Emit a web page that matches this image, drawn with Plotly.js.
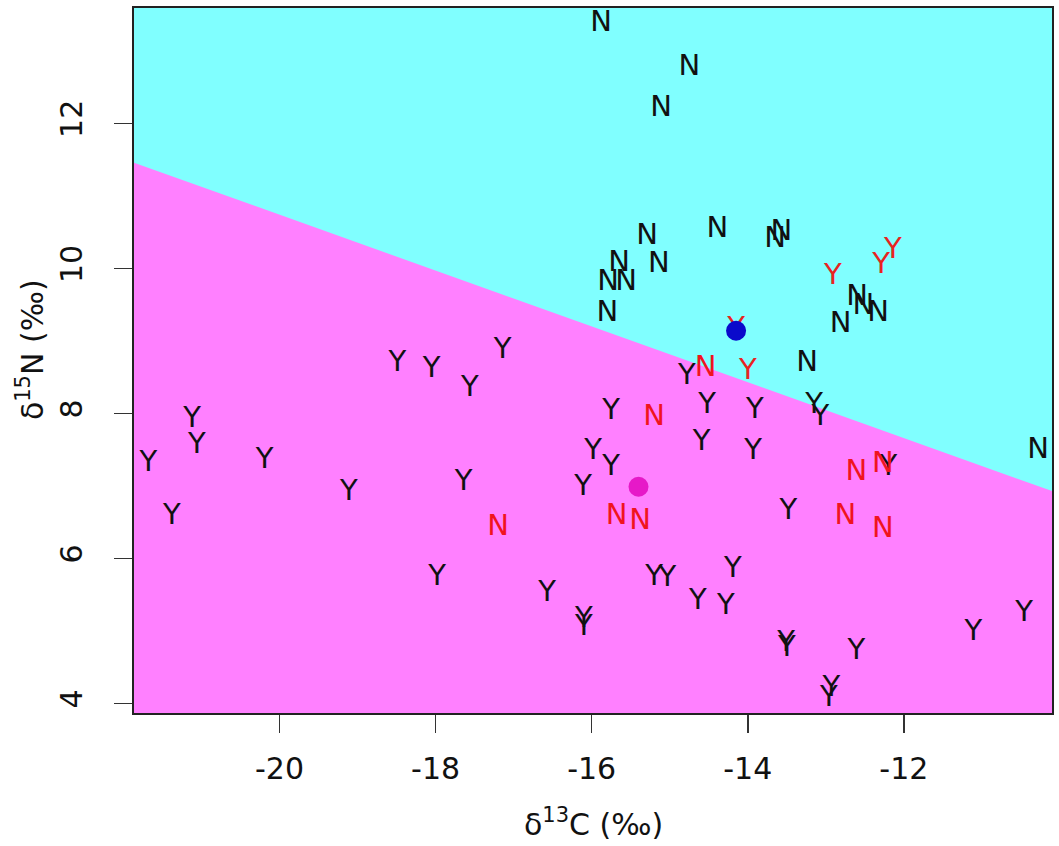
<!DOCTYPE html>
<html><head><meta charset="utf-8">
<script src="https://cdn.plot.ly/plotly-3.0.1.min.js"></script>
<style>html,body{margin:0;padding:0;background:#fff}#plot{width:1059px;height:846px}</style>
</head><body><div id="plot"></div><script>
// Decision boundary
const boundaryX = [-22, -10];
const boundaryY = [11.51, 6.89];

// Black "N" points
const blackNX = [-15.88,-14.75,-15.11,-14.39,-15.29,-13.65,-13.57,-15.14,-15.65,-15.79,-15.56,-15.80,-13.24,-12.60,-12.52,-12.33,-12.81,-10.28];
const blackNY = [13.37,12.76,12.20,10.53,10.43,10.39,10.49,10.05,10.07,9.80,9.80,9.37,8.69,9.59,9.47,9.38,9.22,7.49];

// Black "Y" points
const blackYX = [-14.78,-15.75,-14.52,-13.91,-13.15,-13.07,-14.59,-13.93,-15.98,-15.75,-16.11,-12.20,-13.48,-15.20,-15.03,-14.19,-14.64,-14.28,-16.10,-16.10,-13.51,-13.50,-12.61,-11.11,-10.46,-12.93,-12.96,-18.49,-18.05,-17.56,-17.14,-21.12,-21.06,-21.68,-20.19,-19.11,-21.38,-17.64,-17.98,-16.57];
const blackYY = [8.50,8.02,8.11,8.04,8.11,7.94,7.59,7.47,7.47,7.25,6.97,7.25,6.64,5.74,5.72,5.84,5.40,5.33,5.15,5.04,4.83,4.76,4.71,4.97,5.24,4.21,4.07,8.69,8.60,8.34,8.86,7.91,7.56,7.31,7.35,6.90,6.57,7.04,5.74,5.52];

// Red "Y" points
const redYX = [-12.91,-12.29,-12.14,-14.15,-14.00];
const redYY = [9.88,10.03,10.25,9.16,8.57];

// Red "N" points
const redNX = [-14.54,-15.20,-15.68,-15.38,-12.61,-12.27,-12.75,-12.27,-17.20];
const redNY = [8.61,7.94,6.57,6.50,7.18,7.29,6.57,6.39,6.43];

// Highlighted points
const blueDotX = [-14.15], blueDotY = [9.14];
const pinkDotX = [-15.40], pinkDotY = [6.99];

// Axis ticks
const xTickVals = [-20,-18,-16,-14,-12];
const xTickText = ['-20','-18','-16','-14','-12'];
const yTickVals = [4,6,8,10,12];
const yTickText = ['4','6','8','10','12'];

const FONT = 'DejaVu Sans, Arial, sans-serif';
const letterSize = 29;

function textTrace(xs, ys, label, color){
  return {x: xs, y: ys, mode: 'text', type: 'scatter',
    text: xs.map(()=>label), textposition: 'middle center',
    textfont: {family: FONT, size: letterSize, color: color},
    hoverinfo: 'skip', showlegend: false, cliponaxis: false};
}

const traces = [
  {x: boundaryX, y: boundaryY, mode: 'lines', type: 'scatter', fill: 'tozeroy',
   fillcolor: '#ff80ff', line: {width: 0, color: '#ff80ff'}, hoverinfo: 'skip', showlegend: false},
  textTrace(blackYX, blackYY, 'Y', '#111111'),
  textTrace(blackNX, blackNY, 'N', '#111111'),
  textTrace(redYX, redYY, 'Y', '#e8231f'),
  textTrace(redNX, redNY, 'N', '#f0141e'),
  {x: blueDotX, y: blueDotY, mode: 'markers', type: 'scatter',
   marker: {size: 20, color: '#0a0acb'}, hoverinfo: 'skip', showlegend: false},
  {x: pinkDotX, y: pinkDotY, mode: 'markers', type: 'scatter',
   marker: {size: 20, color: '#e619c8'}, hoverinfo: 'skip', showlegend: false}
];

const axisCommon = {
  showgrid: false, zeroline: false, showline: true, mirror: true,
  linecolor: '#222', linewidth: 2, ticks: 'outside', ticklen: 18, tickwidth: 1.5,
  tickcolor: '#333', tickfont: {family: FONT, size: 30, color: '#111'}, tickmode: 'array'
};

const layout = {
  width: 1059, height: 846,
  margin: {l: 134, r: 7, t: 8, b: 133},
  paper_bgcolor: '#ffffff', plot_bgcolor: '#80ffff',
  showlegend: false,
  xaxis: Object.assign({}, axisCommon, {range: [-21.864, -10.102], tickvals: xTickVals, ticktext: xTickText, ticklabelstandoff: 10}),
  yaxis: Object.assign({}, axisCommon, {range: [3.870, 13.590], tickvals: yTickVals, ticktext: yTickText, tickangle: -90, ticklabelstandoff: 20}),
  annotations: [
    {text: 'δ<sup>13</sup>C (‰)', xref: 'paper', yref: 'paper', x: 0.5, y: -0.156,
     xanchor: 'center', yanchor: 'middle', showarrow: false, font: {family: FONT, size: 30, color: '#111'}},
    {text: 'δ<sup>15</sup>N (‰)', xref: 'paper', yref: 'paper', x: -0.112, y: 0.515,
     xanchor: 'center', yanchor: 'middle', textangle: -90, showarrow: false, font: {family: FONT, size: 30, color: '#111'}}
  ]
};

Plotly.newPlot('plot', traces, layout, {displayModeBar: false, staticPlot: true});
</script></body></html>
